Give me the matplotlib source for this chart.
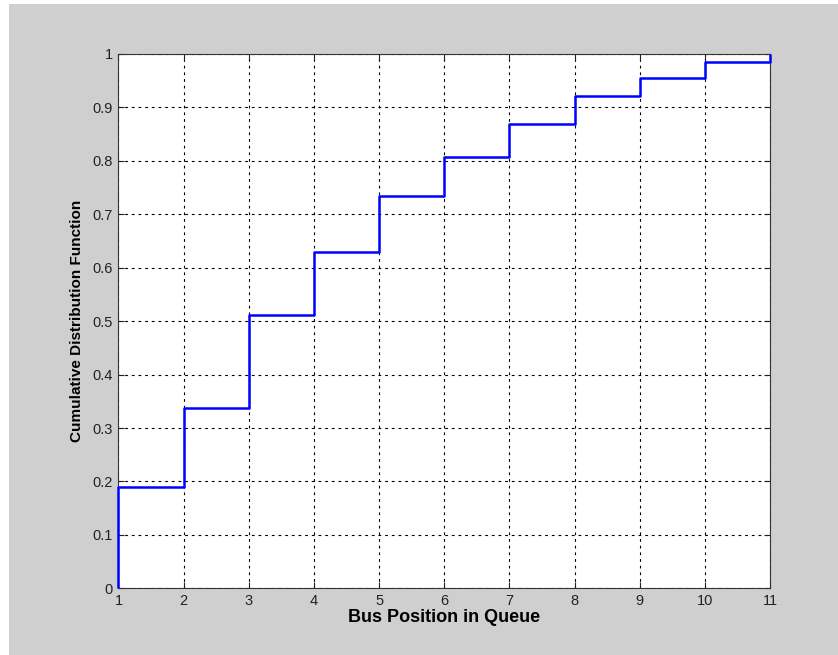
import matplotlib.pyplot as plt
import matplotlib as mpl
from matplotlib.patches import Rectangle

mpl.rcParams.update({
    'font.family': ['Liberation Sans', 'DejaVu Sans'],
    'font.size': 10,
    'axes.linewidth': 0.8,
    'xtick.direction': 'in',
    'ytick.direction': 'in',
    'xtick.major.size': 4,
    'ytick.major.size': 4,
})

positions = [1, 2, 3, 4, 5, 6, 7, 8, 9, 10, 11]
cdf = [0.189, 0.338, 0.512, 0.629, 0.734, 0.808, 0.869, 0.922, 0.955, 0.985, 1.0]
x_ticks = list(range(1, 12))
y_ticks = [0, 0.1, 0.2, 0.3, 0.4, 0.5, 0.6, 0.7, 0.8, 0.9, 1]
y_ticklabels = ['0', '0.1', '0.2', '0.3', '0.4', '0.5', '0.6', '0.7', '0.8', '0.9', '1']

bg = '#cfcfcf'
fig = plt.figure(figsize=(8.38, 6.55), dpi=100, facecolor='white')
fig.patches.append(Rectangle((9 / 838, 0), 1, 651 / 655, transform=fig.transFigure,
                             facecolor=bg, edgecolor='none', zorder=-10))
ax = fig.add_axes([0.1414, 0.1018, 0.7776, 0.8158])

# stairs: start from 0 at x=1, hold each value up to the next position
xs = [positions[0]] + positions
ys = [0] + cdf
ax.step(xs, ys, where='post', color='blue', linewidth=1.8, zorder=5, clip_on=False,
        solid_capstyle='butt')

ax.set_xlim(1, 11)
ax.set_ylim(0, 1)
ax.set_xticks(x_ticks)
ax.set_yticks(y_ticks)
ax.set_yticklabels(y_ticklabels)
ax.tick_params(top=True, right=True, labelsize=10.5, colors='#222222', pad=4)
ax.grid(True, color='black', linestyle=(0, (2.5, 3.5)), linewidth=0.8)
for s in ax.spines.values():
    s.set_color('#333333')

ax.set_xlabel('Bus Position in Queue', fontsize=13, fontweight='bold', labelpad=1)
ax.set_ylabel('Cumulative Distribution Function', fontsize=11, fontweight='bold', labelpad=6)

plt.savefig('out.png', dpi=100, facecolor=fig.get_facecolor())
plt.close()
